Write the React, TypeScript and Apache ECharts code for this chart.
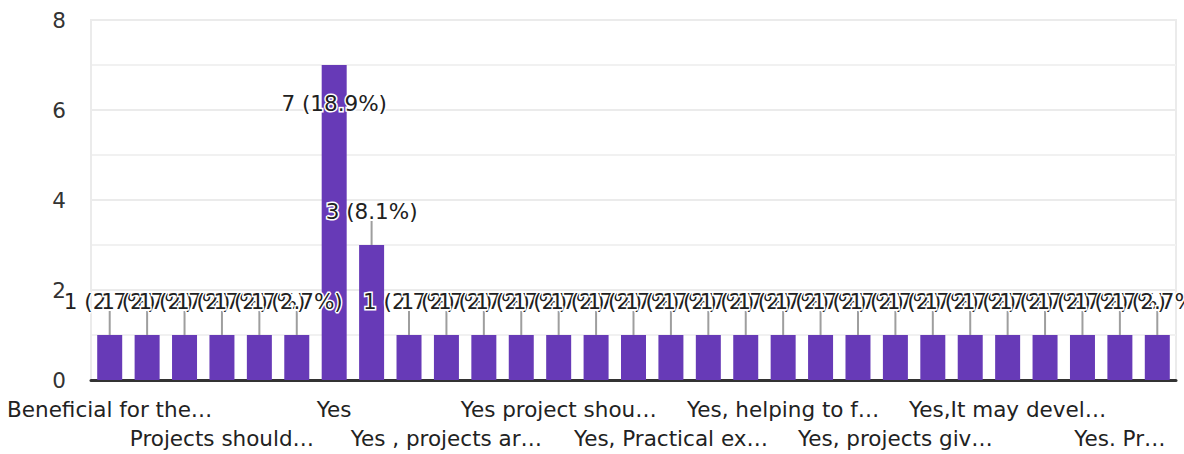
import React, { useEffect, useRef } from "react";
import * as echarts from "echarts";

const categories: string[] = [
  "Beneficial for the…", "Response 2", "Response 3",
  "Projects should…", "Response 5", "Response 6",
  "Yes", "Response 8", "Response 9",
  "Yes , projects ar…", "Response 11", "Response 12",
  "Yes project shou…", "Response 14", "Response 15",
  "Yes, Practical ex…", "Response 17", "Response 18",
  "Yes, helping to f…", "Response 20", "Response 21",
  "Yes, projects giv…", "Response 23", "Response 24",
  "Yes,It may devel…", "Response 26", "Response 27",
  "Yes. Pr…", "Response 29",
];
const counts: number[] = [
  1, 1, 1, 1, 1, 1, 7, 3, 1, 1, 1, 1, 1, 1, 1, 1, 1, 1, 1, 1, 1, 1, 1, 1, 1, 1, 1, 1, 1,
];
// indices whose value label sits inside the bar
const labelInside: number[] = [6];
const yTicks: number[] = [0, 2, 4, 6, 8];

const FONT = "DejaVu Sans";

export default function App() {
  const ref = useRef<HTMLDivElement>(null);
  useEffect(() => {
    if (!ref.current) return;
    const chart = echarts.init(ref.current, undefined, { renderer: "svg" });
    const total = counts.reduce((a, b) => a + b, 0);
    const fmt = (v: number) => `${v} (${((v / total) * 100).toFixed(1)}%)`;
    const barData = counts.map((v, i) => {
      const inside = labelInside.includes(i);
      return {
        value: v,
        label: inside
          ? { position: "insideTop", distance: 27 }
          : { position: "top", distance: 23 },
      };
    });
    chart.setOption({
      animation: false,
      textStyle: { fontFamily: FONT },
      grid: {
        left: 91,
        right: 8,
        top: 20,
        bottom: 74,
        show: true,
        borderColor: "#ebebeb",
        borderWidth: 2,
      },
      xAxis: {
        type: "category",
        data: categories,
        axisLine: { lineStyle: { color: "#333333", width: 3 } },
        axisTick: { show: false },
        axisLabel: {
          interval: 0,
          margin: 15,
          fontSize: 21.5,
          lineHeight: 29,
          color: "#222222",
          fontFamily: FONT,
          formatter: (value: string, index: number) => {
            if (index % 3 !== 0) return "";
            return (index / 3) % 2 === 1 ? "\n" + value : value;
          },
        },
      },
      yAxis: {
        type: "value",
        min: yTicks[0],
        max: yTicks[yTicks.length - 1],
        interval: 2,
        splitNumber: 4,
        axisLine: { show: true, lineStyle: { color: "#ebebeb", width: 2 } },
        axisTick: { show: false },
        axisLabel: { fontSize: 21.5, color: "#333333", margin: 25, fontFamily: FONT },
        splitLine: { lineStyle: { color: "#ebebeb", width: 2 } },
        minorTick: { show: false, splitNumber: 2 },
        minorSplitLine: { show: true, lineStyle: { color: "#f1f1f1", width: 2 } },
      },
      series: [
        {
          type: "bar",
          z: 2,
          data: barData,
          barWidth: 25,
          itemStyle: { color: "#673ab7" },
          label: {
            show: true,
            fontSize: 21.5,
            fontFamily: FONT,
            color: "#212121",
            textBorderColor: "#ffffff",
            textBorderWidth: 3,
            formatter: (p: any) => fmt(p.value),
          },
        },
        {
          type: "custom",
          z: 2,
          data: counts.map((v, i) => [i, v, labelInside.includes(i) ? 1 : 0]),
          renderItem: (params: any, api: any) => {
            const p = api.coord([api.value(0), api.value(1)]);
            const inside = api.value(2) === 1;
            return {
              type: "line",
              shape: {
                x1: p[0],
                y1: p[1],
                x2: p[0],
                y2: p[1] + (inside ? 26 : -24),
              },
              style: { stroke: "#9e9e9e", lineWidth: 2 },
            };
          },
        },
      ],
    });
    return () => chart.dispose();
  }, []);
  return (
    <div
      ref={ref}
      style={{ position: "absolute", left: 0, top: 0, width: 1184, height: 454 }}
    />
  );
}
